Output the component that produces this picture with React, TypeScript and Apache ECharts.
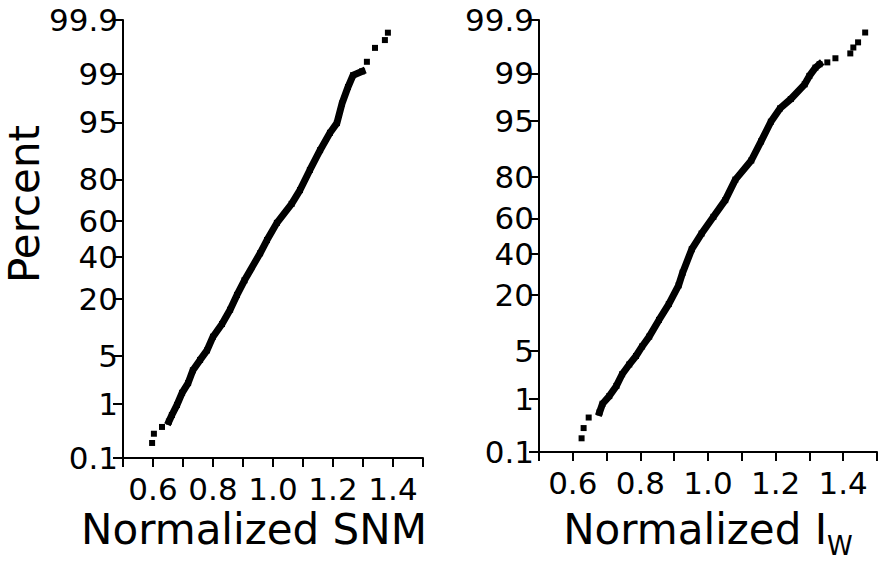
import React, { useEffect, useRef } from "react";
import * as echarts from "echarts";

// Left panel: Normalized SNM (value, cumulative percent)
const snmX = [0.597, 0.603, 0.630, 0.653, 0.663, 0.680, 0.697, 0.717, 0.733, 0.757, 0.780, 0.800, 0.830, 0.857, 0.880, 0.905, 0.957, 0.980, 1.013, 1.062, 1.090, 1.123, 1.157, 1.190, 1.213, 1.230, 1.250, 1.267, 1.297, 1.313, 1.340, 1.373, 1.383];
const snmPct = [0.2, 0.3, 0.4, 0.5, 0.65, 0.96, 1.5, 2.1, 3.2, 4.4, 5.8, 8.4, 11.5, 15.9, 21.5, 28, 42, 49.4, 59, 69, 75.5, 83.5, 89.5, 93.3, 94.9, 97.2, 98.4, 98.96, 99.1, 99.38, 99.65, 99.75, 99.82];

// Right panel: Normalized I_W (value, cumulative percent)
const iwX = [0.626, 0.632, 0.647, 0.679, 0.688, 0.708, 0.729, 0.746, 0.767, 0.787, 0.805, 0.826, 0.855, 0.884, 0.913, 0.925, 0.952, 0.981, 1.016, 1.051, 1.081, 1.128, 1.157, 1.186, 1.213, 1.245, 1.286, 1.300, 1.318, 1.330, 1.353, 1.377, 1.421, 1.430, 1.444, 1.465];
const iwPct = [0.19, 0.3, 0.47, 0.58, 0.82, 1.1, 1.6, 2.4, 3.3, 4.3, 5.7, 7.5, 11.5, 16.5, 24, 30, 42.5, 51.4, 60.8, 69.6, 79, 86, 91.2, 94.9, 96.6, 97.5, 98.5, 98.9, 99.2, 99.3, 99.35, 99.45, 99.55, 99.65, 99.72, 99.82];

// Probability-scale tick labels (percent)
const pctTicks = [0.1, 1, 5, 20, 40, 60, 80, 95, 99, 99.9];
const pctTickLabels = ["0.1", "1", "5", "20", "40", "60", "80", "95", "99", "99.9"];
const xLabelValues = [0.6, 0.8, 1.0, 1.2, 1.4];

// continuous band range (percent) where markers overlap into a solid trace
const snmBand = [0.45, 99.2];
const iwBand = [0.55, 99.3];

function probit(p: number): number {
  const a = [-3.969683028665376e1, 2.209460984245205e2, -2.759285104469687e2, 1.38357751867269e2, -3.066479806614716e1, 2.506628277459239];
  const b = [-5.447609879822406e1, 1.615858368580409e2, -1.556989798598866e2, 6.680131188771972e1, -1.328068155288572e1];
  const c = [-7.784894002430293e-3, -3.223964580411365e-1, -2.400758277161838, -2.549732539343734, 4.374664141464968, 2.938163982698783];
  const d = [7.784695709041462e-3, 3.224671290700398e-1, 2.445134137142996, 3.754408661907416];
  const plow = 0.02425;
  const phigh = 1 - plow;
  if (p < plow) {
    const q = Math.sqrt(-2 * Math.log(p));
    return (((((c[0] * q + c[1]) * q + c[2]) * q + c[3]) * q + c[4]) * q + c[5]) / ((((d[0] * q + d[1]) * q + d[2]) * q + d[3]) * q + 1);
  }
  if (p <= phigh) {
    const q = p - 0.5;
    const r = q * q;
    return ((((((a[0] * r + a[1]) * r + a[2]) * r + a[3]) * r + a[4]) * r + a[5]) * q) / (((((b[0] * r + b[1]) * r + b[2]) * r + b[3]) * r + b[4]) * r + 1);
  }
  const q = Math.sqrt(-2 * Math.log(1 - p));
  return -(((((c[0] * q + c[1]) * q + c[2]) * q + c[3]) * q + c[4]) * q + c[5]) / ((((d[0] * q + d[1]) * q + d[2]) * q + d[3]) * q + 1);
}

const FONT = "DejaVu Sans";
const tickZ = pctTicks.map((p) => probit(p / 100));
const zMin = probit(pctTicks[0] / 100);
const zMax = probit(pctTicks[pctTicks.length - 1] / 100);

function yFormatter(v: number): string {
  for (let i = 0; i < tickZ.length; i++) {
    if (Math.abs(tickZ[i] - v) < 1e-6) return pctTickLabels[i];
  }
  return "";
}
function xFormatter(v: number): string {
  const k = Math.round(v * 10);
  for (const t of xLabelValues) {
    if (Math.round(t * 10) === k) return t.toFixed(1);
  }
  return "";
}

function pts(xs: number[], ps: number[]) {
  return xs.map((x, i) => [x, probit(ps[i] / 100)]);
}
function band(xs: number[], ps: number[], r: number[]) {
  const out: number[][] = [];
  xs.forEach((x, i) => {
    if (ps[i] >= r[0] && ps[i] <= r[1]) out.push([x, probit(ps[i] / 100)]);
  });
  return out;
}

const axisLineStyle = { lineStyle: { color: "#000", width: 2 } };

function makeX(gridIndex: number, name: any, nameRich?: any) {
  return {
    type: "value",
    gridIndex,
    min: 0.5,
    max: 1.5,
    interval: 0.1,
    axisLine: { show: true, onZero: false, ...axisLineStyle },
    axisTick: { show: true, length: 9, lineStyle: { color: "#000", width: 2 } },
    splitLine: { show: false },
    axisLabel: {
      color: "#000",
      fontFamily: FONT,
      fontSize: 31,
      margin: 15,
      formatter: xFormatter,
      showMinLabel: true,
      showMaxLabel: true,
    },
    name,
    nameLocation: "middle",
    nameGap: 47,
    nameTextStyle: {
      color: "#000",
      fontFamily: FONT,
      fontSize: 42,
      ...(nameRich || {}),
    },
  };
}

function makeY(gridIndex: number, withName: boolean) {
  return {
    type: "value",
    gridIndex,
    min: zMin,
    max: zMax,
    axisLine: { show: true, onZero: false, ...axisLineStyle },
    axisTick: { show: true, length: 10, customValues: tickZ, lineStyle: { color: "#000", width: 2 } },
    splitLine: { show: false },
    axisLabel: {
      color: "#000",
      fontFamily: FONT,
      fontSize: 31,
      margin: 5,
      customValues: tickZ,
      formatter: yFormatter,
    },
    name: withName ? "Percent" : "",
    nameLocation: "middle",
    nameRotate: 90,
    nameGap: 76,
    nameTextStyle: {
      color: "#000",
      fontFamily: FONT,
      fontSize: 42,
      padding: [0, 0, 0, 70],
    },
  };
}

export default function App() {
  const ref = useRef<HTMLDivElement>(null);
  useEffect(() => {
    if (!ref.current) return;
    const chart = echarts.init(ref.current, undefined, { renderer: "svg" });
    const markerStyle = { color: "#000", opacity: 1 };
    chart.setOption({
      animation: false,
      backgroundColor: "#fff",
      grid: [
        { left: 123, right: 457, top: 20, bottom: 106, containLabel: false },
        { left: 539, right: 1, top: 20, bottom: 105, containLabel: false },
      ],
      xAxis: [
        {
          ...makeX(0, "Normalized SNM", { padding: [0, 38, 0, 0] }),
        },
        {
          ...makeX(1, "Normalized I{w|W}", {
            rich: {
              w: { fontFamily: FONT, fontSize: 26, color: "#000", padding: [34, 0, 0, 0] },
            },
          }),
        },
      ],
      yAxis: [makeY(0, true), makeY(1, false)],
      series: [
        {
          type: "line",
          xAxisIndex: 0,
          yAxisIndex: 0,
          data: band(snmX, snmPct, snmBand),
          showSymbol: false,
          lineStyle: { color: "#000", width: 7, cap: "square" },
          silent: true,
        },
        {
          type: "scatter",
          xAxisIndex: 0,
          yAxisIndex: 0,
          data: pts(snmX, snmPct),
          symbol: "rect",
          symbolSize: 6,
          itemStyle: markerStyle,
        },
        {
          type: "line",
          xAxisIndex: 1,
          yAxisIndex: 1,
          data: band(iwX, iwPct, iwBand),
          showSymbol: false,
          lineStyle: { color: "#000", width: 7, cap: "square" },
          silent: true,
        },
        {
          type: "scatter",
          xAxisIndex: 1,
          yAxisIndex: 1,
          data: pts(iwX, iwPct),
          symbol: "rect",
          symbolSize: 6,
          itemStyle: markerStyle,
        },
      ],
    });
    return () => chart.dispose();
  }, []);
  return (
    <div
      ref={ref}
      style={{ position: "fixed", left: 0, top: 0, width: 880, height: 564, background: "#fff" }}
    />
  );
}
